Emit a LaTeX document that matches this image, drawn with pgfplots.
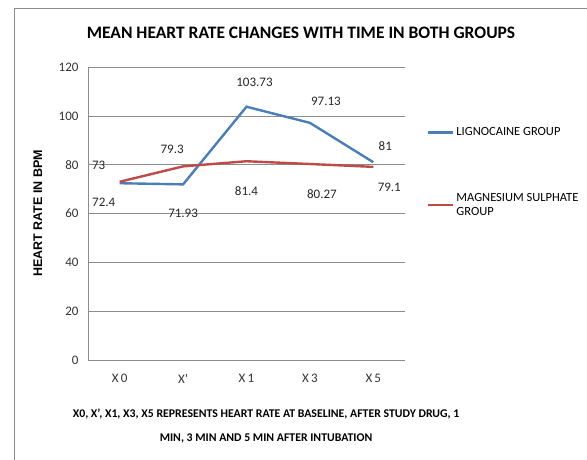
\documentclass[border=0pt]{standalone}
\usepackage{pgfplots}
\pgfplotsset{compat=1.18}
\usepackage{fontspec}
\setmainfont{Carlito}
\newfontfamily\arialb{Liberation Sans}
\definecolor{lblue}{HTML}{4A7EBB}
\definecolor{lred}{HTML}{BE4B48}
\definecolor{gridc}{HTML}{8C8C8C}
\begin{document}
\begin{tikzpicture}[x=1pt,y=1pt]
\path[use as bounding box] (0,0) rectangle (587,459);
\draw[gridc, line width=0.8pt] (14,-5) -- (14,451) -- (600,451);
\node[font=\bfseries\fontsize{17.5}{20}\selectfont] at (301,426) {MEAN HEART RATE CHANGES WITH TIME IN BOTH GROUPS};
\node[align=center, font=\bfseries\fontsize{11.8}{24}\selectfont] at (266,33) {X0, X', X1, X3, X5 REPRESENTS HEART RATE AT BASELINE, AFTER STUDY DRUG, 1\\MIN, 3 MIN AND 5 MIN AFTER INTUBATION};
\begin{axis}[
  at={(88pt,99pt)}, anchor=south west,
  width=317pt, height=293pt, scale only axis,
  xmin=-0.5, xmax=4.5, ymin=0, ymax=120,
  ytick={0,20,...,120}, xtick={0,1,2,3,4},
  xticklabels={X\,0, X', X\,1, X\,3, X\,5},
  ymajorgrids, grid style={gridc, line width=0.6pt},
  axis x line*=bottom, axis y line*=left,
  axis line style={gridc, line width=0.8pt},
  major tick length=0pt,
  /pgf/number format/assume math mode=true,
  tick label style={font=\fontsize{13}{14}\selectfont, text=black!80},
  yticklabel style={xshift=-6pt},
  xticklabel style={yshift=-11pt},
  ylabel={\arialb\bfseries HEART RATE IN BPM},
  ylabel style={font=\fontsize{12.5}{14}\selectfont, at={(axis description cs:-0.158,0.5)}, anchor=center},
  legend style={at={(rel axis cs:1.069,0.80)}, anchor=north west, draw=none, fill=none,
    font=\fontsize{12.5}{14}\selectfont, row sep=52pt, inner sep=0pt, cells={align=left, inner xsep=0.5pt}},
  legend cell align=left,
  legend image code/.code={\draw[#1] (0pt,0pt) -- (25pt,0pt);},
]
\addplot[lblue, line width=2.4pt] coordinates {(0,72.4) (1,71.93) (2,103.73) (3,97.13) (4,81)};
\addlegendentry{LIGNOCAINE GROUP}
\addplot[lred, line width=2.4pt] coordinates {(0,73) (1,79.3) (2,81.4) (3,80.27) (4,79.1)};
\addlegendentry{MAGNESIUM SULPHATE\\GROUP}
\begin{scope}[every node/.style={font=\fontsize{13}{14}\selectfont, text=black!85}]
\node[xshift=-16pt, yshift=-19pt] at (axis cs:0,72.4) {72.4};
\node[xshift=0pt, yshift=-29pt] at (axis cs:1,71.93) {71.93};
\node[xshift=8pt, yshift=24pt] at (axis cs:2,103.73) {103.73};
\node[xshift=16pt, yshift=22pt] at (axis cs:3,97.13) {97.13};
\node[xshift=12pt, yshift=16pt] at (axis cs:4,81) {81};
\node[xshift=-21pt, yshift=16pt] at (axis cs:0,73) {73};
\node[xshift=-11pt, yshift=17pt] at (axis cs:1,79.3) {79.3};
\node[xshift=0pt, yshift=-30pt] at (axis cs:2,81.4) {81.4};
\node[xshift=12pt, yshift=-30pt] at (axis cs:3,80.27) {80.27};
\node[xshift=16pt, yshift=-20pt] at (axis cs:4,79.1) {79.1};
\end{scope}
\end{axis}
\end{tikzpicture}
\end{document}
